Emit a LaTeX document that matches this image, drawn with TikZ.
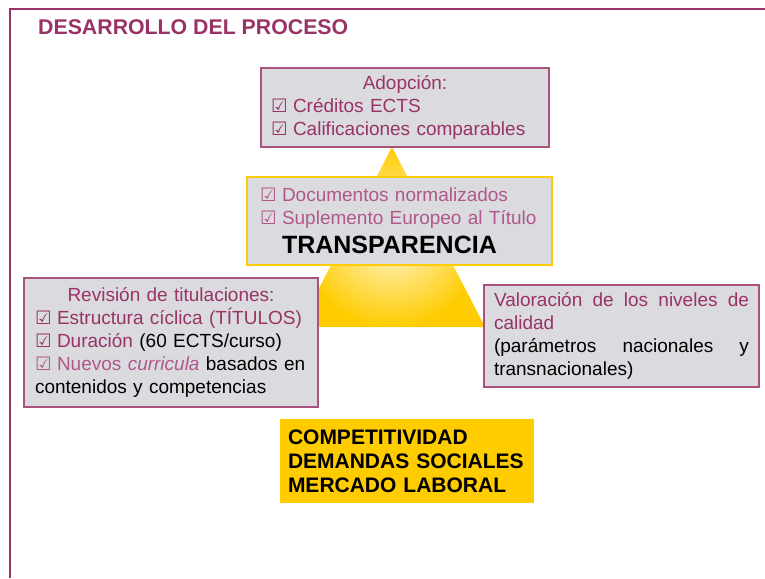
\documentclass[tikz,border=0pt]{standalone}
\usepackage{fontspec}
\setmainfont{Liberation Sans}
\newfontfamily\symfont{DejaVu Sans}
\usetikzlibrary{positioning}

\definecolor{plum}{HTML}{993366}
\definecolor{mauve}{HTML}{B0588A}
\definecolor{gold}{HTML}{FFCC00}
\definecolor{boxgrey}{HTML}{DADADF}

\newcommand{\chk}{\makebox[22pt][l]{\symfont\fontsize{18.5}{18}\selectfont ☑}}

\begin{document}
\begin{tikzpicture}[x=1pt, y=-1pt,
greybox/.style={rectangle, draw=plum!85, fill=boxgrey, line width=1.5pt, inner ysep=0pt, text=plum, font=\fontsize{19}{23}\selectfont},
goldbox/.style={rectangle, fill=gold, inner ysep=0pt, text=black, font=\bfseries\fontsize{21}{24}\selectfont},
titlenode/.style={text=plum, font=\bfseries\fontsize{21.3}{24}\selectfont, inner sep=0pt},
]
\useasboundingbox (0,0) rectangle (765,578);

%Frame
\draw[plum, line width=2pt] (10,578) -- (10,9) -- (765,9);
\node[titlenode, anchor=base west] (titulo) at (38,35) {DESARROLLO DEL PROCESO};

%Triangle
\shade[inner color=gold!15, outer color=gold] (392,147) -- (485,327) -- (299,327) -- cycle;

%Nodes
\node[greybox, minimum width=288pt, minimum height=79pt, inner xsep=10pt, text width=268pt, align=left]
  (adopcion) at (405,107.5)
  {{\centering Adopción:\par}
   \chk Créditos ECTS\\
   \chk Calificaciones comparables};
\node[greybox, draw=gold, line width=2pt, text=mauve, minimum width=305pt, minimum height=88pt,
  inner xsep=13pt, text width=279pt, align=left]
  (transparencia) [below=28pt of adopcion, xshift=-5.5pt]
  {\chk Documentos normalizados\\
   \chk Suplemento Europeo al Título\\[6pt]
   \hspace*{22pt}{\color{black}\bfseries\fontsize{25}{28}\selectfont TRANSPARENCIA}};
\node[greybox, minimum width=294pt, minimum height=129pt, inner xsep=11pt, text width=272pt, align=left]
  (revision) at (171,342.5)
  {{\centering Revisión de titulaciones:\par}
   \chk Estructura cíclica (TÍTULOS)\\
   \chk Duración {\color{black}(60 ECTS/curso)}\\
   {\color{mauve}\chk Nuevos \textit{curricula}} {\color{black}basados en\\
   contenidos y competencias}};
\node[greybox, minimum width=275pt, minimum height=102pt, inner xsep=10pt, text width=255pt, align=justify]
  (valoracion) at (621.5,336)
  {\tolerance=10000\hyphenpenalty=10000
   {\color{plum}Valoración de los niveles de calidad\par}
   {\color{black}(parámetros nacionales y transnacionales)}};
\node[goldbox, minimum width=254pt, minimum height=84pt, inner xsep=8pt, text width=238pt, align=left]
  (competitividad) at (407,461)
  {COMPETITIVIDAD\\
   DEMANDAS SOCIALES\\
   MERCADO LABORAL};
\end{tikzpicture}
\end{document}
